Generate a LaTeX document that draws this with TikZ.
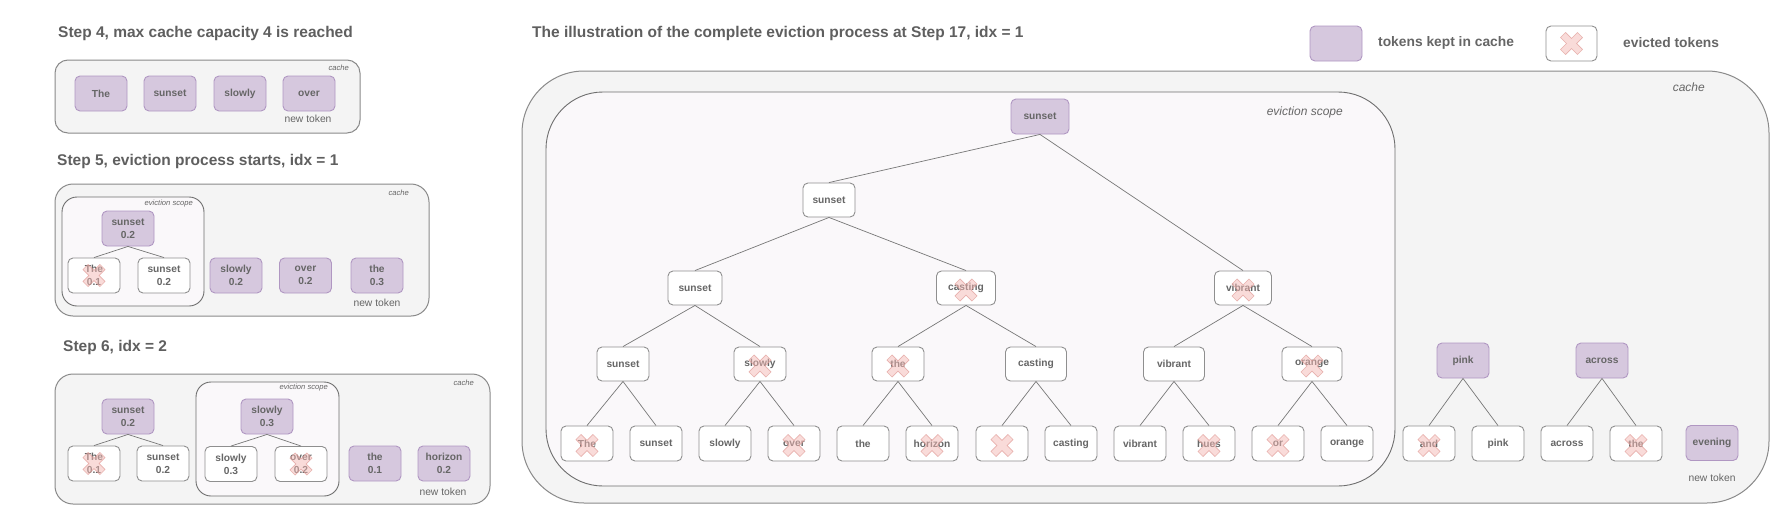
\documentclass[tikz,border=0pt]{standalone}
\usepackage{fontspec}
\setmainfont{Liberation Sans}
\definecolor{txt}{HTML}{666666}
\definecolor{ttl}{HTML}{5F5F5F}
\definecolor{purpF}{HTML}{D6C8DE}
\definecolor{purpB}{HTML}{B097C2}
\definecolor{nodeB}{HTML}{8F8F8F}
\definecolor{cacheF}{HTML}{F4F4F4}
\definecolor{cacheB}{HTML}{8A8A8A}
\definecolor{scopeF}{HTML}{FAF8FA}
\definecolor{scopeB}{HTML}{6E6E6E}
\definecolor{edgeC}{HTML}{777777}
\definecolor{crossF}{HTML}{F4B8B4}
\definecolor{crossB}{HTML}{E09A95}
\newcommand{\tokfont}{\fontsize{10.2}{13}\selectfont\bfseries}
\newcommand{\ttlfont}{\fontsize{15.5}{18}\selectfont\bfseries}
\newcommand{\legfont}{\fontsize{13.8}{16}\selectfont\bfseries}
\newcommand{\ntfont}{\fontsize{10.3}{12}\selectfont}
\newcommand{\smallit}{\fontsize{7.6}{9}\selectfont\itshape}
\newcommand{\bigit}{\fontsize{12}{14}\selectfont\itshape}
\tikzset{
  kept/.style={draw=purpB, fill=purpF, rounded corners=5pt, minimum width=52pt, minimum height=35pt, inner sep=0pt, align=center, line width=0.9pt, font=\tokfont, text=txt},
  plain/.style={draw=nodeB, fill=white, rounded corners=5pt, minimum width=52pt, minimum height=35pt, inner sep=0pt, align=center, line width=0.9pt, font=\tokfont, text=txt},
  edge/.style={draw=edgeC, line width=0.7pt},
  cachebox/.style={draw=cacheB, fill=cacheF, line width=1pt},
  scopebox/.style={draw=scopeB, fill=scopeF, line width=0.9pt},
  ttl/.style={anchor=west, font=\ttlfont, text=ttl, inner sep=0pt},
  leg/.style={anchor=west, font=\legfont, text=txt, inner sep=0pt},
  newtok/.style={font=\ntfont, text=txt, inner sep=0pt},
  smalllab/.style={anchor=east, font=\smallit, text=txt, inner sep=0pt},
  biglab/.style={anchor=east, font=\bigit, text=txt, inner sep=0pt},
  xmark/.pic={\filldraw[fill=crossF, draw=crossB, fill opacity=0.5, draw opacity=0.7, line width=0.6pt, rotate=45]
    (-3.6,12)--(3.6,12)--(3.6,3.6)--(12,3.6)--(12,-3.6)--(3.6,-3.6)--(3.6,-12)--(-3.6,-12)--(-3.6,-3.6)--(-12,-3.6)--(-12,3.6)--(-3.6,3.6)--cycle;}
}
\begin{document}
\begin{tikzpicture}[x=1pt, y=-1pt]
\useasboundingbox (0,0) rectangle (1792,514);
\fill[white] (0,0) rectangle (1792,514);

% ---------- Panel 1 ----------
\node[ttl] (t1) at (58,33) {Step 4, max cache capacity 4 is reached};
\draw[cachebox, rounded corners=13pt] (55,60) rectangle (360,133);
\node[smalllab] (p1c) at (349,68) {cache};
\node[kept] (p1a) at (101,93.5) {The};
\node[kept] (p1b) at (170,93.5) {sunset};
\node[kept] (p1d) at (240,93.5) {slowly};
\node[kept] (p1e) at (309,93.5) {over};
\node[newtok] (p1n) at (308,119) {new token};

% ---------- Panel 2 ----------
\node[ttl] (t2) at (57,161) {Step 5, eviction process starts, idx = 1};
\draw[cachebox, rounded corners=18pt] (55,184) rectangle (429,316);
\node[smalllab] (p2cl) at (409,193) {cache};
\draw[scopebox, rounded corners=15pt] (62,197) rectangle (204,306);
\node[smalllab] (p2sl) at (193,204) {eviction scope};
\node[kept] (p2r) at (128,228.5) {sunset\\0.2};
\node[plain] (p2a) at (94,275.5) {The\\0.1};
\node[plain] (p2b) at (164,275.5) {sunset\\0.2};
\node[kept] (p2c) at (236,275.5) {slowly\\0.2};
\node[kept] (p2d) at (305.5,275.5) {over\\0.2};
\node[kept] (p2e) at (377,275.5) {the\\0.3};
\node[newtok] (p2n) at (377,303) {new token};
\draw[edge] (p2r.south) -- (p2a.north);
\draw[edge] (p2r.south) -- (p2b.north);
\pic at (p2a.center) {xmark};

% ---------- Panel 3 ----------
\node[ttl] (t3) at (63,347) {Step 6, idx = 2};
\draw[cachebox, rounded corners=18pt] (55,374) rectangle (490,504);
\node[smalllab] (p3cl) at (474,383) {cache};
\draw[scopebox, rounded corners=15pt] (196,382) rectangle (339,496);
\node[smalllab] (p3sl) at (328,388) {eviction scope};
\node[kept] (p3r) at (128,416.5) {sunset\\0.2};
\node[plain] (p3a) at (94,463.5) {The\\0.1};
\node[plain] (p3b) at (163,463.5) {sunset\\0.2};
\node[kept] (p3s) at (267,416.5) {slowly\\0.3};
\node[plain] (p3c) at (231,464) {slowly\\0.3};
\node[plain] (p3d) at (301,464) {over\\0.2};
\node[kept] (p3e) at (375,463.5) {the\\0.1};
\node[kept] (p3f) at (444,463.5) {horizon\\0.2};
\node[newtok] (p3n) at (443,492) {new token};
\draw[edge] (p3r.south) -- (p3a.north);
\draw[edge] (p3r.south) -- (p3b.north);
\draw[edge] (p3s.south) -- (p3c.north);
\draw[edge] (p3s.south) -- (p3d.north);
\pic at (p3a.center) {xmark};
\pic at (p3d.center) {xmark};

% ---------- Legend ----------
\node[kept, minimum width=52pt, minimum height=35pt] (lk) at (1336,43.5) {};
\node[leg] (lkt) at (1378,43) {tokens kept in cache};
\node[plain, minimum width=51pt, minimum height=35pt] (le) at (1571.5,43.5) {};
\pic at (le.center) {xmark};
\node[leg] (let) at (1623,43) {evicted tokens};

% ---------- Big panel ----------
\node[ttl] (t4) at (532,33) {The illustration of the complete eviction process at Step 17, idx = 1};
\draw[cachebox, rounded corners=62pt] (522,71) rectangle (1769,503);
\node[biglab] (bcl) at (1705,87) {cache};
\draw[scopebox, rounded corners=57pt] (546,92) rectangle (1395,486);
\node[biglab] (bsl) at (1343,112) {eviction scope};

% level 0
\node[kept, minimum width=58pt] (r) at (1040,116.5) {sunset};
% level 1
\node[plain, minimum height=34pt] (a) at (829,200) {sunset};
% level 2
\node[plain, minimum height=34pt, minimum width=54pt] (b1) at (695,288) {sunset};
\node[plain, minimum height=34pt, minimum width=59pt] (b2) at (966,288) {casting};
\node[plain, minimum height=34pt, minimum width=57pt] (b3) at (1243,288) {vibrant};
% level 3
\node[plain, minimum height=34pt] (c1) at (623,364) {sunset};
\node[plain, minimum height=34pt] (c2) at (760,364) {slowly};
\node[plain, minimum height=34pt] (c3) at (898,364) {the};
\node[plain, minimum height=34pt, minimum width=61pt] (c4) at (1036,364) {casting};
\node[plain, minimum height=34pt, minimum width=61pt] (c5) at (1174,364) {vibrant};
\node[plain, minimum height=34pt, minimum width=60pt] (c6) at (1312,364) {orange};
% leaves
\node[plain] (d1) at (587,443.5) {The};
\node[plain] (d2) at (656,443.5) {sunset};
\node[plain] (d3) at (725,443.5) {slowly};
\node[plain] (d4) at (794,443.5) {over};
\node[plain] (d5) at (863,443.5) {the};
\node[plain] (d6) at (932,443.5) {horizon};
\node[plain] (d7) at (1002,443.5) {};
\node[plain] (d8) at (1071,443.5) {casting};
\node[plain] (d9) at (1140,443.5) {vibrant};
\node[plain] (d10) at (1209,443.5) {hues};
\node[plain] (d11) at (1278,443.5) {or};
\node[plain] (d12) at (1347,443.5) {orange};
% outside scope
\node[kept] (e1) at (1463,360.5) {pink};
\node[kept] (e2) at (1602,360.5) {across};
\node[plain] (f1) at (1429,443.5) {and};
\node[plain] (f2) at (1498,443.5) {pink};
\node[plain] (f3) at (1567,443.5) {across};
\node[plain] (f4) at (1636,443.5) {the};
\node[kept] (ev) at (1712,443) {evening};
\node[newtok] (evn) at (1712,478) {new token};

% edges
\draw[edge] (r.south) -- (a.north);
\draw[edge] (r.south) -- (b3.north);
\draw[edge] (a.south) -- (b1.north);
\draw[edge] (a.south) -- (b2.north);
\draw[edge] (b1.south) -- (c1.north);
\draw[edge] (b1.south) -- (c2.north);
\draw[edge] (b2.south) -- (c3.north);
\draw[edge] (b2.south) -- (c4.north);
\draw[edge] (b3.south) -- (c5.north);
\draw[edge] (b3.south) -- (c6.north);
\draw[edge] (c1.south) -- (d1.north);
\draw[edge] (c1.south) -- (d2.north);
\draw[edge] (c2.south) -- (d3.north);
\draw[edge] (c2.south) -- (d4.north);
\draw[edge] (c3.south) -- (d5.north);
\draw[edge] (c3.south) -- (d6.north);
\draw[edge] (c4.south) -- (d7.north);
\draw[edge] (c4.south) -- (d8.north);
\draw[edge] (c5.south) -- (d9.north);
\draw[edge] (c5.south) -- (d10.north);
\draw[edge] (c6.south) -- (d11.north);
\draw[edge] (c6.south) -- (d12.north);
\draw[edge] (e1.south) -- (f1.north);
\draw[edge] (e1.south) -- (f2.north);
\draw[edge] (e2.south) -- (f3.north);
\draw[edge] (e2.south) -- (f4.north);

% crosses
\foreach \n in {b2,b3,c2,c3,c6,d1,d4,d6,d7,d10,d11,f1,f4}{
  \pic at ([yshift=-2pt]\n.center) {xmark};
}
\end{tikzpicture}
\end{document}
